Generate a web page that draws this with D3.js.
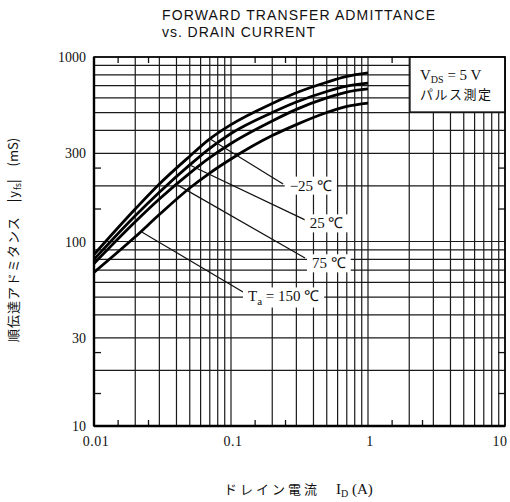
<!DOCTYPE html>
<html><head><meta charset="utf-8">
<script src="https://cdn.jsdelivr.net/npm/d3@7"></script>
<style>body{margin:0;background:#fff}svg{display:block}</style>
</head><body><svg id="c" width="510" height="502"></svg>
<script>
// ---- data ----
const currents = [0.01, 0.02, 0.03, 0.05, 0.07, 0.1, 0.2, 0.3, 0.5, 0.7, 1];
const yfsM25 = [85, 150, 205, 290, 360, 430, 560, 640, 730, 785, 820];
const yfs25  = [80, 138, 185, 260, 320, 385, 500, 570, 650, 695, 722];
const yfs75  = [76, 128, 170, 235, 285, 340, 450, 520, 600, 645, 671];
const yfs150 = [68, 106, 140, 195, 235, 280, 375, 430, 500, 540, 563];
const seriesLabels = ["−25 ℃", "25 ℃", "75 ℃", "Ta = 150 ℃"];
const xTicks = [0.01, 0.1, 1, 10];
const xTickLabels = ["0.01", "0.1", "1", "10"];
const yTicks = [10, 30, 100, 300, 1000];
const yTickLabels = ["10", "30", "100", "300", "1000"];

// ---- layout (annotation anchors in data units) ----
const labelAt   = [[0.268, 197], [0.375, 123], [0.39, 74.7], [0.133, 49.4]];
const leaderFrom = [0.07, 0.05, 0.04, 0.022];
const leaderTo  = [[0.24, 205], [0.347, 131], [0.347, 81.4], [0.1224, 53.2]];

const svg = d3.select("#c");
const L = 94, R = 505, T = 57, B = 426;
const x = d3.scaleLog().domain([0.01, 10]).range([L, R]);
const y = d3.scaleLog().domain([10, 1000]).range([B, T]);

// grid
const gx = [], gy = [];
for (let e = -2; e <= 0; e++) for (let k = 1; k <= 9; k++) gx.push(k * Math.pow(10, e));
gx.push(10);
for (let e = 1; e <= 2; e++) for (let k = 1; k <= 9; k++) gy.push(k * Math.pow(10, e));
gy.push(1000);
const grid = svg.append("g").attr("stroke", "#1a1a1a").attr("stroke-width", 1.2);
grid.selectAll("line.v").data(gx).join("line")
  .attr("x1", d => x(d)).attr("x2", d => x(d)).attr("y1", T).attr("y2", B);
grid.selectAll("line.h").data(gy).join("line")
  .attr("x1", L).attr("x2", R).attr("y1", d => y(d)).attr("y2", d => y(d));

// minor ticks (1.5, 2.5)
const mx = [], my = [];
for (let e = -2; e <= 0; e++) { mx.push(1.5 * Math.pow(10, e), 2.5 * Math.pow(10, e)); }
for (let e = 1; e <= 2; e++) { my.push(1.5 * Math.pow(10, e), 2.5 * Math.pow(10, e)); }
const mt = svg.append("g").attr("stroke", "#111").attr("stroke-width", 1.3);
mx.forEach(v => {
  mt.append("line").attr("x1", x(v)).attr("x2", x(v)).attr("y1", B).attr("y2", B - 6);
  mt.append("line").attr("x1", x(v)).attr("x2", x(v)).attr("y1", T).attr("y2", T + 6);
});
my.forEach(v => {
  mt.append("line").attr("x1", L).attr("x2", L + 7).attr("y1", y(v)).attr("y2", y(v));
  mt.append("line").attr("x1", R).attr("x2", R - 7).attr("y1", y(v)).attr("y2", y(v));
});

// condition box
svg.append("rect").attr("x", 410).attr("y", T).attr("width", R - 410).attr("height", 55)
  .attr("fill", "#fff").attr("stroke", "#111").attr("stroke-width", 1.3);
const bt = svg.append("text").attr("x", 420).attr("y", 80)
  .attr("font-family", "Liberation Serif, serif").attr("font-size", 15).attr("fill", "#111");
bt.append("tspan").text("V");
bt.append("tspan").attr("font-size", 10).attr("dy", 3).text("DS");
bt.append("tspan").attr("dy", -3).text(" = 5 V");
svg.append("text").attr("x", 420).attr("y", 99)
  .attr("font-family", "Noto Sans CJK JP").attr("font-size", 13).attr("fill", "#111")
  .attr("letter-spacing", 1.5).text("パルス測定");

// curves
const series = [yfsM25, yfs25, yfs75, yfs150];
const line = d3.line().x(d => x(d[0])).y(d => y(d[1])).curve(d3.curveMonotoneX);
svg.append("g").selectAll("path").data(series).join("path")
  .attr("d", s => line(currents.map((c, i) => [c, s[i]])))
  .attr("fill", "none").attr("stroke", "#000").attr("stroke-width", 2.8);

// leaders
function curveAt(s, xv) {
  const lx = Math.log10(xv);
  for (let i = 0; i < currents.length - 1; i++) {
    const a = Math.log10(currents[i]), b = Math.log10(currents[i + 1]);
    if (lx >= a && lx <= b) {
      const t = (lx - a) / (b - a);
      return Math.pow(10, Math.log10(s[i]) + t * (Math.log10(s[i + 1]) - Math.log10(s[i])));
    }
  }
  return s[s.length - 1];
}
const lg = svg.append("g").attr("stroke", "#111").attr("stroke-width", 1.2);
series.forEach((s, i) => {
  const fx = leaderFrom[i], fy = curveAt(s, fx);
  lg.append("line").attr("x1", x(fx)).attr("y1", y(fy))
    .attr("x2", x(leaderTo[i][0])).attr("y2", y(leaderTo[i][1]));
});

// labels with white background
const lbl = svg.append("g").attr("font-family", "Liberation Serif, serif").attr("font-size", 15).attr("fill", "#111");
seriesLabels.forEach((t, i) => {
  const g = lbl.append("g");
  const tx = g.append("text").attr("x", x(labelAt[i][0])).attr("y", y(labelAt[i][1]))
    .attr("dominant-baseline", "middle");
  if (t.startsWith("Ta")) {
    tx.append("tspan").text("T");
    tx.append("tspan").attr("font-size", 11).attr("dy", 4).text("a");
    tx.append("tspan").attr("dy", -4).text(" = 150 ℃");
  } else tx.text(t);
  const bb = tx.node().getBBox();
  g.insert("rect", "text").attr("x", bb.x - 5).attr("y", bb.y - 1)
    .attr("width", bb.width + 10).attr("height", bb.height + 2).attr("fill", "#fff");
});

// frame
svg.append("rect").attr("x", L).attr("y", T).attr("width", R - L).attr("height", B - T)
  .attr("fill", "none").attr("stroke", "#000").attr("stroke-width", 1.6);
svg.append("line").attr("x1", L).attr("x2", L).attr("y1", T).attr("y2", B).attr("stroke", "#000").attr("stroke-width", 2.4);
svg.append("line").attr("x1", L).attr("x2", R).attr("y1", B).attr("y2", B).attr("stroke", "#000").attr("stroke-width", 2.4);

// tick labels
const tl = svg.append("g").attr("font-family", "Liberation Serif, serif").attr("font-size", 14).attr("fill", "#111");
xTicks.forEach((v, i) => tl.append("text").attr("x", Math.min(x(v) + 2, 500)).attr("y", 446)
  .attr("text-anchor", "middle").attr("letter-spacing", 0.5).text(xTickLabels[i]));
yTicks.forEach((v, i) => tl.append("text").attr("x", 86).attr("y", y(v) + 5)
  .attr("text-anchor", "end").text(yTickLabels[i]));

// titles
const tt = svg.append("g").attr("font-family", "Liberation Sans Narrow, Liberation Sans, sans-serif").attr("font-size", 14).attr("fill", "#111");
tt.append("text").attr("x", 162).attr("y", 20).attr("textLength", 273).attr("lengthAdjust", "spacing").text("FORWARD TRANSFER ADMITTANCE");
tt.append("text").attr("x", 162).attr("y", 37).attr("textLength", 153).attr("lengthAdjust", "spacing").text("vs. DRAIN CURRENT");

// axis titles
const xt = svg.append("text").attr("x", 224).attr("y", 494)
  .attr("font-family", "Noto Sans CJK JP").attr("font-size", 13).attr("fill", "#111");
xt.append("tspan").attr("letter-spacing", 3).text("ドレイン電流　");
xt.append("tspan").attr("font-family", "Liberation Serif, serif").attr("font-size", 15).text("I");
xt.append("tspan").attr("font-family", "Liberation Serif, serif").attr("font-size", 10).attr("dy", 3).text("D");
xt.append("tspan").attr("font-family", "Liberation Serif, serif").attr("font-size", 15).attr("dy", -3).text(" (A)");

const yt = svg.append("text").attr("transform", "translate(18,240) rotate(-90)")
  .attr("text-anchor", "middle").attr("font-family", "Noto Sans CJK JP").attr("font-size", 13).attr("fill", "#111");
yt.append("tspan").attr("letter-spacing", 1).text("順伝達アドミタンス　|y");
yt.append("tspan").attr("font-size", 9).attr("dy", 3).text("fs");
yt.append("tspan").attr("dy", -3).text("|　(mS)");
</script></body></html>
